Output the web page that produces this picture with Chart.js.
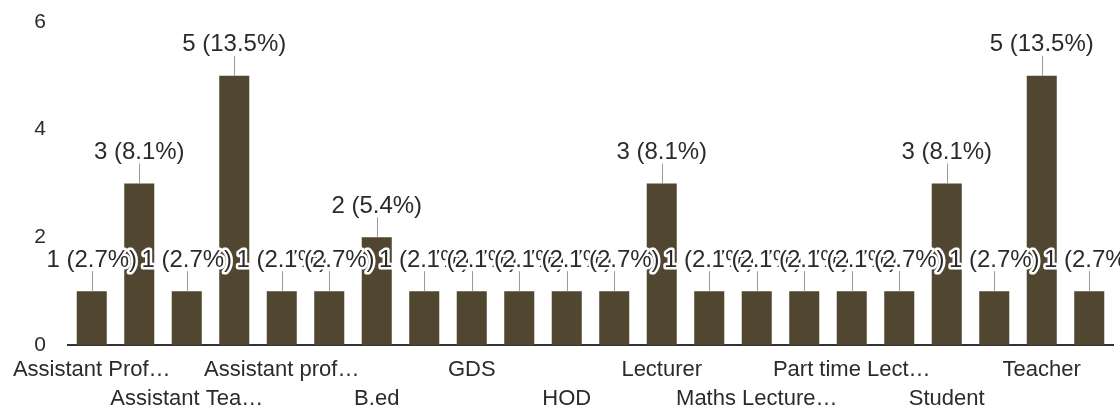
<!DOCTYPE html>
<html>
<head>
<meta charset="utf-8">
<script src="https://cdn.jsdelivr.net/npm/chart.js@4/dist/chart.umd.min.js"></script>
<style>
    html, body { margin: 0; padding: 0; background: #fff; }
    #wrap { width: 1120px; height: 410px; }
</style>
</head>
<body>
<div id="wrap"><canvas id="roleChart"></canvas></div>
<script>
// --- data ---
const categories = [
    'Assistant Professor', 'Assistant Professor in Mathematics', 'Assistant Teacher', 'Assistant lecturer',
    'Assistant professor', 'Asst. Professor', 'B.ed', 'Engineer', 'GDS', 'Guest Lecturer', 'HOD',
    'Headmaster', 'Lecturer', 'Librarian', 'Maths Lecturer at college', 'PGT', 'Part time Lecturer',
    'Research Scholar', 'Student', 'TGT', 'Teacher', 'Tutor'
];
const counts = [1, 3, 1, 5, 1, 1, 2, 1, 1, 1, 1, 1, 3, 1, 1, 1, 1, 1, 3, 1, 5, 1];
const yTicks = [0, 2, 4, 6];

const total = counts.reduce((a, b) => a + b, 0);
const FONT = '"Liberation Sans", Arial, sans-serif';

// shorten long category names with an ellipsis, like the form summary does
const measureCtx = document.createElement('canvas').getContext('2d');
measureCtx.fontKerning = 'none';
function shorten(text, maxW) {
    measureCtx.font = '22px ' + FONT;
    if (measureCtx.measureText(text).width <= maxW) return text;
    let s = text;
    while (s.length > 1 && measureCtx.measureText(s + '…').width > maxW) s = s.slice(0, -1);
    return s.trimEnd() + '…';
}

// value labels "n (p%)" on top of each bar, with a small leader line
const valueLabels = {
    id: 'valueLabels',
    afterDatasetsDraw(chart) {
        const ctx = chart.ctx;
        const bars = chart.getDatasetMeta(0).data;
        ctx.save();
        ctx.strokeStyle = '#9a9a9a';
        ctx.lineWidth = 1;
        bars.forEach(bar => {
            ctx.beginPath();
            ctx.moveTo(Math.round(bar.x) + 0.5, bar.y - 20);
            ctx.lineTo(Math.round(bar.x) + 0.5, bar.y);
            ctx.stroke();
        });
        ctx.font = '24px ' + FONT;
        ctx.textAlign = 'center';
        ctx.textBaseline = 'middle';
        ctx.lineJoin = 'round';
        bars.forEach((bar, i) => {
            const v = counts[i];
            const txt = v + ' (' + (v / total * 100).toFixed(1) + '%)';
            ctx.strokeStyle = '#fff';
            ctx.lineWidth = 5;
            ctx.strokeText(txt, bar.x, bar.y - 31);
            ctx.fillStyle = '#2b2b2b';
            ctx.fillText(txt, bar.x, bar.y - 31);
        });
        ctx.restore();
    }
};

new Chart(document.getElementById('roleChart'), {
    type: 'bar',
    data: {
        labels: categories,
        datasets: [{
            data: counts,
            backgroundColor: '#51462f',
            barPercentage: 0.632,
            categoryPercentage: 1
        }]
    },
    options: {
        responsive: true,
        maintainAspectRatio: false,
        animation: false,
        layout: { padding: { top: 22, right: 7, left: 0, bottom: 0 } },
        plugins: {
            legend: { display: false },
            tooltip: { enabled: false }
        },
        scales: {
            x: {
                grid: { display: false },
                border: { display: true, color: '#333', width: 2 },
                afterFit: scale => { scale.height = 65; },
                ticks: {
                    autoSkip: false,
                    maxRotation: 0,
                    padding: 2,
                    color: '#2b2b2b',
                    font: { family: FONT, size: 22, lineHeight: '29px' },
                    callback: function(value, index) {
                        if (index % 2) return '';
                        const name = shorten(this.getLabelForValue(value), 164);
                        // alternate two rows so the names don't collide
                        return (index / 2) % 2 === 0 ? [name] : ['', name];
                    }
                }
            },
            y: {
                min: 0,
                max: 6,
                grid: { display: false, drawTicks: false },
                border: { display: false },
                afterFit: scale => {
                    scale.width = 68;
                    // the tick padding is horizontal only; keep it out of the vertical layout
                    scale.paddingTop = 0;
                    scale.paddingBottom = 0;
                },
                afterBuildTicks: scale => { scale.ticks = yTicks.map(v => ({ value: v })); },
                ticks: {
                    padding: 22,
                    color: '#2b2b2b',
                    font: { family: FONT, size: 21 }
                }
            }
        }
    },
    plugins: [valueLabels]
});
</script>
</body>
</html>
